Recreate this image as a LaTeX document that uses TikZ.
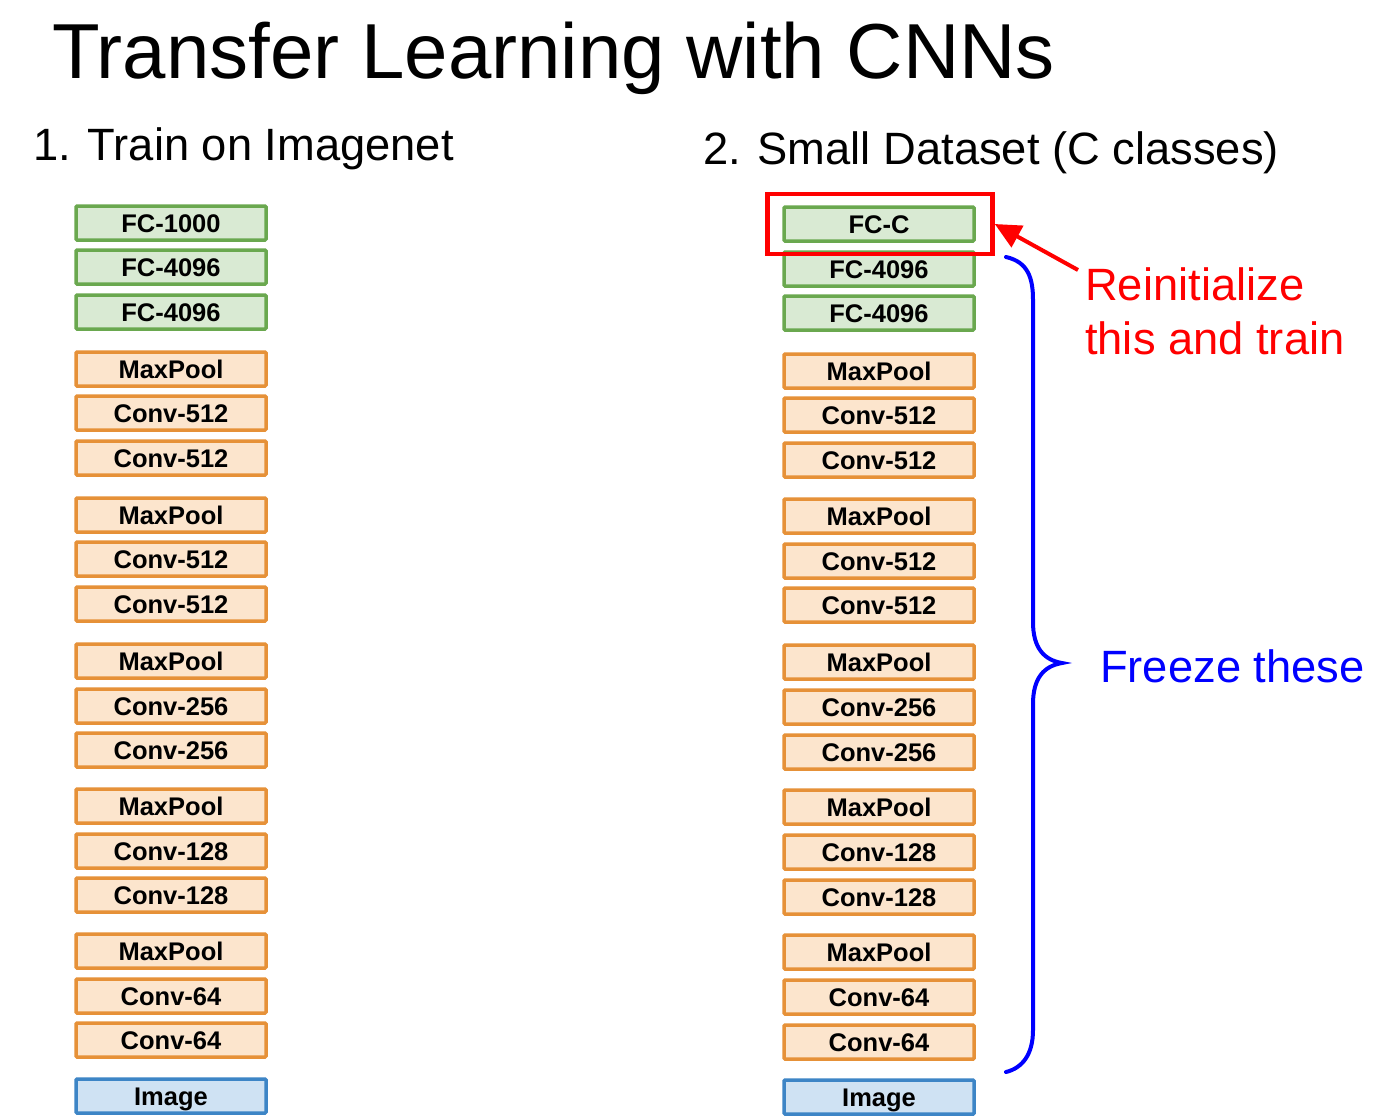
\documentclass[tikz,border=0pt]{standalone}
\usepackage{fontspec}
\setmainfont{Liberation Sans}
\usetikzlibrary{arrows.meta}
\definecolor{fcfill}{HTML}{D9EAD3}
\definecolor{fcline}{HTML}{6AA84F}
\definecolor{cvfill}{HTML}{FCE5CD}
\definecolor{cvline}{HTML}{E69138}
\definecolor{imfill}{HTML}{CFE2F3}
\definecolor{imline}{HTML}{3D85C6}
\definecolor{myred}{HTML}{FF0000}
\definecolor{myblue}{HTML}{0000FF}
\tikzset{
  layerbox/.style={draw, line width=3.5pt, rounded corners=1pt, minimum width=190pt, minimum height=34pt, inner sep=0pt,
    text height=18.4pt, text depth=0pt,
    font=\fontsize{25.5}{28}\selectfont\bfseries, text=black},
  fcbox/.style={layerbox, fill=fcfill, draw=fcline},
  convbox/.style={layerbox, fill=cvfill, draw=cvline},
  imgbox/.style={layerbox, fill=imfill, draw=imline},
  headtext/.style={anchor=base west, inner sep=0pt, font=\fontsize{45.3}{54}\selectfont},
}
\begin{document}
\begin{tikzpicture}[x=1pt,y=-1pt]
\useasboundingbox[fill=white] (0,0) rectangle (1375,1117);
\node[anchor=base west, inner sep=0pt, font=\fontsize{78}{90}\selectfont] (title) at (52,78) {Transfer Learning with CNNs};
\node[headtext] (h1) at (33,160) {1. Train on Imagenet};
\node[headtext] (h2) at (703,164) {2. Small Dataset (C classes)};
% left column
\foreach \s/\lab/\y [count=\i] in {fcbox/FC-1000/223, fcbox/FC-4096/267, fcbox/FC-4096/312,
  convbox/MaxPool/369, convbox/Conv-512/413, convbox/Conv-512/458,
  convbox/MaxPool/515, convbox/Conv-512/559, convbox/Conv-512/604,
  convbox/MaxPool/661, convbox/Conv-256/706, convbox/Conv-256/750,
  convbox/MaxPool/806, convbox/Conv-128/851, convbox/Conv-128/895,
  convbox/MaxPool/951, convbox/Conv-64/996, convbox/Conv-64/1040,
  imgbox/Image/1096}
  \node[\s] (l\i) at (171,\y) {\lab};
% right column
\foreach \s/\lab/\y [count=\i] in {fcbox/FC-C/224, fcbox/FC-4096/269, fcbox/FC-4096/313,
  convbox/MaxPool/371, convbox/Conv-512/415, convbox/Conv-512/460,
  convbox/MaxPool/516, convbox/Conv-512/561, convbox/Conv-512/605,
  convbox/MaxPool/662, convbox/Conv-256/707, convbox/Conv-256/752,
  convbox/MaxPool/807, convbox/Conv-128/852, convbox/Conv-128/897,
  convbox/MaxPool/952, convbox/Conv-64/997, convbox/Conv-64/1042,
  imgbox/Image/1097}
  \node[\s] (r\i) at (879,\y) {\lab};
% red box around FC-C
\node[draw=myred, line width=4.5pt, minimum width=225pt, minimum height=60pt, inner sep=0pt] (redbox) at (880,224) {};
\coordinate (arrtail) at (1078,270);
\draw[myred, line width=4pt, -{Triangle[length=26pt,width=24pt]}] (arrtail) -- (redbox.east);
\node[headtext, text=myred] (rein1) at (1085,300) {Reinitialize};
\node[headtext, text=myred] (rein2) at (1085,354) {this and train};
% brace
\draw[myblue, line width=4pt, line cap=round]
  (1006,257) .. controls (1028,262) and (1033,278) .. (1033,300)
  -- (1033,622) .. controls (1033,648) and (1044,660) .. (1062,663)
  .. controls (1044,666) and (1033,678) .. (1033,704)
  -- (1033,1030) .. controls (1033,1055) and (1022,1068) .. (1006,1072);
\node[headtext, text=myblue] (freeze) at (1100,682) {Freeze these};
\end{tikzpicture}
\end{document}
